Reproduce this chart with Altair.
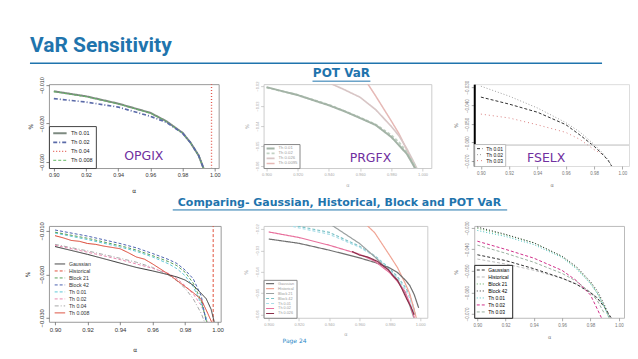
import altair as alt
import pandas as pd

BLUE = "#1f74ad"
PURPLE = "#7030a0"

# ---------------- OPGIX (POT VaR) ----------------
P1_ALPHA = [0.900, 0.920, 0.940, 0.960, 0.970, 0.980, 0.985, 0.990, 0.993, 0.995]
P1_TH001 = [-0.0116, -0.0129, -0.0148, -0.0172, -0.0194, -0.0224, -0.0250, -0.0283, -0.0316, -0.0345]
P1_TH002 = [-0.0135, -0.0144, -0.0157, -0.0181, -0.0197, -0.0225, -0.0250, -0.0283, -0.0316, -0.0345]
P1_TH0008 = [-0.0117, -0.0130, -0.0149, -0.0173, -0.0195, -0.0225, -0.0251, -0.0284, -0.0317, -0.0346]
P1_TH004_ALPHA = [0.998, 0.998]
P1_TH004 = [-0.0050, -0.0400]
P1_NAMES = ["Th 0.01", "Th 0.02", "Th 0.04", "Th 0.008"]

# ---------------- PRGFX (POT VaR) ----------------
P2_ALPHA = [0.900, 0.920, 0.940, 0.950, 0.960, 0.970, 0.980, 0.985, 0.990, 0.995, 0.998]
P2_TH001 = [-0.0205, -0.0245, -0.0296, -0.0326, -0.0360, -0.0395, -0.0455, -0.0497, -0.0540, -0.0608, -0.0680]
P2_TH002 = [-0.0207, -0.0244, -0.0293, -0.0325, -0.0357, -0.0392, -0.0445, -0.0482, -0.0530, -0.0595, -0.0660]
P2_TH0026 = [None, -0.0120, -0.0183, -0.0218, -0.0256, -0.0318, -0.0402, -0.0450, -0.0515, -0.0590, -0.0640]
P2_TH00095 = [None, None, None, None, -0.0130, -0.0250, -0.0375, -0.0440, -0.0520, -0.0610, -0.0670]
P2_NAMES = ["Th 0.01", "Th 0.02", "Th 0.026", "Th 0.0095"]

# ---------------- FSELX (POT VaR) ----------------
P3_ALPHA = [0.900, 0.920, 0.940, 0.960, 0.970, 0.980, 0.985, 0.990, 0.995]
P3_TH001 = [-0.0354, -0.0392, -0.0436, -0.0503, -0.0559, -0.0620, -0.0656, -0.0697, -0.0760]
P3_TH002 = [-0.0295, -0.0349, -0.0413, -0.0492, -0.0543, -0.0610, -0.0648, -0.0692, -0.0760]
P3_TH003 = [-0.0446, -0.0467, -0.0504, -0.0545, -0.0583, -0.0638, -0.0660, None, None]
P3_NAMES = ["Th 0.01", "Th 0.02", "Th 0.03"]

# ---------------- OPGIX (comparison) ----------------
P4_ALPHA = [0.900, 0.920, 0.940, 0.950, 0.960, 0.970, 0.975, 0.980, 0.985, 0.990, 0.993, 0.996, 0.998]
P4_GAUSS = [-0.0136, -0.0154, -0.0174, -0.0184, -0.0192, -0.0201, -0.0206, -0.0213, -0.0225, -0.0244, -0.0256, -0.0280, -0.0310]
P4_BLOCK21 = [-0.0103, -0.0117, -0.0134, -0.0144, -0.0157, -0.0171, -0.0180, -0.0195, -0.0220, -0.0262, -0.0305, -0.0350, None]
P4_BLOCK42 = [-0.0098, -0.0112, -0.0129, -0.0139, -0.0152, -0.0166, -0.0175, -0.0190, -0.0210, -0.0250, -0.0310, -0.0360, None]
P4_TH001 = [-0.0105, -0.0120, -0.0137, -0.0147, -0.0160, -0.0176, -0.0187, -0.0203, -0.0228, -0.0268, -0.0300, -0.0345, None]
P4_TH002 = [-0.0133, -0.0149, -0.0166, -0.0176, -0.0186, -0.0198, -0.0210, -0.0226, -0.0245, -0.0272, -0.0300, -0.0330, None]
P4_TH004 = [-0.0131, -0.0146, -0.0163, -0.0172, -0.0184, -0.0202, -0.0215, -0.0232, -0.0256, -0.0290, -0.0320, None, None]
P4_HIST_ALPHA = [0.9973, 0.9973]
P4_HIST = [-0.0050, -0.0400]
P4_TH0008_ALPHA = [0.900, 0.905, 0.910, 0.915, 0.920, 0.925, 0.930, 0.935, 0.940, 0.945, 0.950,
                   0.955, 0.960, 0.965, 0.970, 0.975, 0.980, 0.985, 0.990, 0.994, 0.997]
P4_TH0008 = [-0.0111, -0.0116, -0.0122, -0.0124, -0.0129, -0.0131, -0.0135, -0.0138, -0.0141, -0.0150, -0.0160,
             -0.0165, -0.0176, -0.0188, -0.0200, -0.0214, -0.0228, -0.0242, -0.0258, -0.0290, -0.0315]
P4_NAMES = ["Gaussian", "Historical", "Block 21", "Block 42", "Th 0.01", "Th 0.02", "Th 0.04", "Th 0.008"]

# ---------------- PRGFX (comparison) ----------------
P5_ALPHA = [0.900, 0.920, 0.940, 0.960, 0.970, 0.980, 0.985, 0.990, 0.993, 0.996, 0.999]
P5_GAUSS = [-0.0247, -0.0267, -0.0299, -0.0335, -0.0356, -0.0382, -0.0403, -0.0437, -0.0462, -0.0505, -0.0568]
P5_HIST = [None, None, None, -0.0150, -0.0218, -0.0325, -0.0380, -0.0452, -0.0500, -0.0575, -0.0660]
P5_BLOCK21 = [None, None, -0.0175, -0.0268, -0.0330, -0.0400, -0.0436, -0.0500, -0.0555, -0.0620, None]
P5_BLOCK42 = [-0.0150, -0.0188, -0.0216, -0.0281, -0.0325, -0.0385, -0.0423, -0.0470, -0.0505, -0.0575, -0.0660]
P5_TH001 = [-0.0160, -0.0195, -0.0225, -0.0285, -0.0328, -0.0390, -0.0430, -0.0480, -0.0520, -0.0590, None]
P5_TH002 = [-0.0214, -0.0240, -0.0276, -0.0318, -0.0350, -0.0405, -0.0445, -0.0492, -0.0545, -0.0610, -0.0680]
P5_TH0026_ALPHA = [0.955, 0.960, 0.965, 0.969, 0.972, 0.976, 0.979, 0.982, 0.985, 0.988, 0.991, 0.994, 0.996]
P5_TH0026 = [-0.0305, -0.0322, -0.0330, -0.0342, -0.0352, -0.0375, -0.0390, -0.0418, -0.0440, -0.0480, -0.0525, -0.0565, -0.0600]
P5_NAMES = ["Gaussian", "Historical", "Block 21", "Block 42", "Th 0.01", "Th 0.02", "Th 0.026"]

# ---------------- FSELX (comparison) ----------------
P6_ALPHA = [0.900, 0.920, 0.940, 0.960, 0.970, 0.980, 0.985, 0.990, 0.995]
P6_GAUSS = [-0.0425, -0.0452, -0.0490, -0.0534, -0.0562, -0.0602, -0.0628, -0.0670, -0.0722]
P6_HIST = [-0.0445, -0.0468, -0.0497, -0.0535, -0.0560, -0.0598, -0.0625, -0.0665, None]
P6_BLOCK21 = [-0.0302, -0.0333, -0.0369, -0.0434, -0.0485, -0.0556, -0.0605, -0.0668, -0.0750]
P6_BLOCK42 = [-0.0296, -0.0330, -0.0370, -0.0432, -0.0480, -0.0550, -0.0595, -0.0660, -0.0740]
P6_TH001 = [-0.0312, -0.0340, -0.0378, -0.0438, -0.0490, -0.0560, -0.0608, -0.0670, -0.0750]
P6_TH002 = [-0.0362, -0.0400, -0.0441, -0.0498, -0.0545, -0.0612, -0.0680, -0.0750, None]
P6_TH003 = [-0.0380, -0.0418, -0.0460, -0.0512, -0.0548, -0.0600, -0.0640, -0.0700, None]
P6_NAMES = ["Gaussian", "Historical", "Block 21", "Block 42", "Th 0.01", "Th 0.02", "Th 0.03"]

X_TICKS = [0.90, 0.92, 0.94, 0.96, 0.98, 1.00]


def frame(specs):
    rows = []
    for name, alphas, values in specs:
        for a, v in zip(alphas, values):
            if v is not None:
                rows.append({"alpha": a, "var": v, "series": name})
    return pd.DataFrame(rows)


def one_row():
    return pd.DataFrame({"k": [0]})


def panel(df, names, colors, dashes, widths, xdom, ydom, yvals, xfmt, yfmt, w, h, st,
          label=None, label_pos=None, extras=(), title=None):
    ax_common = dict(labelFont="Liberation Sans", labelFontSize=st["ls"], labelColor=st["lc"],
                     tickColor=st["tc"], tickSize=3, tickWidth=0.7, grid=False,
                     titleFont="DejaVu Sans", titleFontSize=st["ts"], titleFontWeight="normal",
                     titleColor=st["lc"], labelPadding=1.5)
    xaxis = alt.Axis(values=X_TICKS, format=xfmt, title="α", domain=False,
                     titlePadding=st["xtp"], labelFlush=False, **ax_common)
    ydomain_kw = dict(domain=st.get("ydomain", False))
    if st.get("ydomain", False):
        ydomain_kw.update(domainColor="#000000", domainWidth=2)
    yaxis = alt.Axis(values=yvals, format=yfmt, title="%", labelAngle=270, labelAlign="center",
                     labelBaseline="bottom", titlePadding=st["ytp"], **ydomain_kw, **ax_common)
    leg_kw = dict(orient="bottom-left", title=None, offset=st.get("loff", 0),
                  labelFont="Liberation Sans", labelFontSize=st["lfs"], labelColor=st["llc"],
                  symbolType="stroke", symbolSize=st["ssz"], symbolStrokeWidth=1,
                  padding=st["lpad"], rowPadding=0, clipHeight=st["clip"], labelOffset=3)
    if st.get("lborder"):
        leg_kw.update(strokeColor=st["lborder"], fillColor="white")
    lines = alt.Chart(df).mark_line(clip=True).encode(
        x=alt.X("alpha:Q", scale=alt.Scale(domain=xdom, nice=False, zero=False), axis=xaxis),
        y=alt.Y("var:Q", scale=alt.Scale(domain=ydom, nice=False, zero=False), axis=yaxis),
        color=alt.Color("series:N", scale=alt.Scale(domain=names, range=colors),
                        legend=alt.Legend(**leg_kw)),
        strokeDash=alt.StrokeDash("series:N", scale=alt.Scale(domain=names, range=dashes)),
        strokeWidth=alt.StrokeWidth("series:N", scale=alt.Scale(domain=names, range=widths),
                                    legend=None),
    )
    layers = [lines]
    if label:
        layers.append(alt.Chart(one_row()).mark_text(
            font="DejaVu Sans", fontSize=12.5, color=PURPLE, align="center", baseline="middle"
        ).encode(x=alt.value(label_pos[0]), y=alt.value(label_pos[1]), text=alt.value(label)))
    layers.extend(extras)
    props = dict(width=w, height=h, view=alt.ViewBackground(stroke=st["box"], strokeWidth=1))
    if title is not None:
        props["title"] = title
    return alt.layer(*layers).properties(**props)


SOLID = [1, 0]
DASH = [3, 2]
DOT = [1, 2]
DASHDOT = [4, 2, 1, 2]

top_style = dict(ls=5.5, lc="#333333", tc="#555555", ts=6, xtp=10, ytp=6, lfs=5.5, llc="#222222",
                 ssz=180, clip=8.5, lpad=3, lborder="#444444", box="#9a9a9a")
faint_style = dict(top_style, ls=4, lc="#aaaaaa", tc="#bbbbbb", ts=5, xtp=6, ytp=6, lfs=4.2,
                   llc="#999999", ssz=64, clip=4.8, lpad=2, lborder="#888888", box="#cccccc")
fsel_style = dict(top_style, ls=4.5, lc="#777777", tc="#888888", ts=5, xtp=8, ytp=6, lfs=5,
                  llc="#111111", ssz=30, clip=5.2, lpad=2, lborder="#bbbbbb", box="#dddddd",
                  ydomain=True)

# panel geometry (plot areas)
W1, W2, W3 = 170, 168, 155
W4, W5, W6 = 172, 164, 150
H_TOP, H_BOT = 84, 92
GAP = 43

# underline for slide title, subtitles, and decorations
title_rule = alt.Chart(one_row()).mark_rule(color=BLUE, strokeWidth=1.5).encode(
    x=alt.value(-19), x2=alt.value(554), y=alt.value(-21))
pot_rule = alt.Chart(one_row()).mark_rule(color=BLUE, strokeWidth=1).encode(
    x=alt.value(49), x2=alt.value(107), y=alt.value(-3))
fsel_rule = alt.Chart(one_row()).mark_rule(color="#bbbbbb", strokeWidth=1).encode(
    x=alt.value(0), x2=alt.value(W3), y=alt.value(61))
cmp_rule = alt.Chart(one_row()).mark_rule(color=BLUE, strokeWidth=1).encode(
    x=alt.value(-91), x2=alt.value(244), y=alt.value(-16))
page_text = alt.Chart(one_row()).mark_text(
    font="DejaVu Sans", fontSize=6, color="#2e8bc8", align="center", baseline="middle"
).encode(x=alt.value(31), y=alt.value(115), text=alt.value("Page 24"))

pot_title = alt.Title("POT VaR", font="DejaVu Sans", fontSize=12, fontWeight="bold",
                      color=BLUE, anchor="middle", frame="group", offset=1, dx=-6)
cmp_title = alt.Title("Comparing- Gaussian, Historical, Block and POT VaR",
                      font="DejaVu Sans", fontSize=11, fontWeight="bold",
                      color=BLUE, anchor="middle", frame="group", offset=1, dx=-6)

p1 = panel(
    frame([("Th 0.01", P1_ALPHA, P1_TH001), ("Th 0.008", P1_ALPHA, P1_TH0008),
           ("Th 0.02", P1_ALPHA, P1_TH002), ("Th 0.04", P1_TH004_ALPHA, P1_TH004)]),
    P1_NAMES, ["#7d8a80", "#5a6aa8", "#e2574c", "#62b862"], [SOLID, DASHDOT, DOT, DASH],
    [2, 1, 1, 1], [0.89695, 1.00244], [-0.03156, -0.00974], [-0.010, -0.020, -0.030],
    ".2f", ".3f", W1, H_TOP, top_style, "OPGIX", (95, 72), [title_rule])

p2 = panel(
    frame([("Th 0.0095", P2_ALPHA, P2_TH00095), ("Th 0.026", P2_ALPHA, P2_TH0026),
           ("Th 0.02", P2_ALPHA, P2_TH002), ("Th 0.01", P2_ALPHA, P2_TH001)]),
    P2_NAMES, ["#a3b3a6", "#c2d2c4", "#d8c6c6", "#e6b9b6"], [SOLID, DASH, SOLID, SOLID],
    [2, 1.5, 1.5, 1.5], [0.8981, 1.0056], [-0.061, -0.019], [-0.02, -0.03, -0.04, -0.05, -0.06],
    ".3f", ".2f", W2, H_TOP, faint_style, "PRGFX", (107, 74), [pot_rule], title=pot_title)

p3 = panel(
    frame([("Th 0.02", P3_ALPHA, P3_TH002), ("Th 0.03", P3_ALPHA, P3_TH003),
           ("Th 0.01", P3_ALPHA, P3_TH001)]),
    P3_NAMES, ["#333333", "#a0a0a0", "#d98080"], [DASH, DOT, [1, 3]],
    [1, 1, 1.2], [0.8953, 1.0047], [-0.0727, -0.0284], [-0.03, -0.04, -0.05, -0.06, -0.07],
    ".2f", ".3f", W3, H_TOP - 2, fsel_style, "FSELX", (72, 74), [fsel_rule])

p4_style = dict(top_style, ls=6, lfs=5.2, ssz=110, clip=6.2, lpad=0, loff=5, xtp=14, ytp=8,
                lborder=None, llc="#333333")
p4 = panel(
    frame([("Historical", P4_HIST_ALPHA, P4_HIST), ("Th 0.04", P4_ALPHA, P4_TH004),
           ("Th 0.02", P4_ALPHA, P4_TH002), ("Th 0.01", P4_ALPHA, P4_TH001),
           ("Block 21", P4_ALPHA, P4_BLOCK21), ("Block 42", P4_ALPHA, P4_BLOCK42),
           ("Th 0.008", P4_TH0008_ALPHA, P4_TH0008), ("Gaussian", P4_ALPHA, P4_GAUSS)]),
    P4_NAMES, ["#333333", "#e0503c", "#5aa05a", "#4a62b0", "#5ec8d8", "#e88ab0", "#a8a8a8", "#d9402e"],
    [SOLID, DASH, DASH, DASH, DASH, DASH, DASHDOT, SOLID],
    [1, 1, 1, 1, 1, 1, 1, 1.3], [0.89625, 1.0019], [-0.0309, -0.00886], [-0.010, -0.020, -0.030],
    ".2f", ".3f", W4, H_BOT + 4, p4_style)

p5 = panel(
    frame([("Block 42", P5_ALPHA, P5_BLOCK42), ("Th 0.01", P5_ALPHA, P5_TH001),
           ("Block 21", P5_ALPHA, P5_BLOCK21), ("Historical", P5_ALPHA, P5_HIST),
           ("Gaussian", P5_ALPHA, P5_GAUSS), ("Th 0.02", P5_ALPHA, P5_TH002),
           ("Th 0.026", P5_TH0026_ALPHA, P5_TH0026)]),
    P5_NAMES, ["#707070", "#f0a595", "#9aa0a0", "#7cc2c6", "#a9dde8", "#e8719d", "#8a2f4a"],
    [SOLID, SOLID, SOLID, DASH, DASH, SOLID, SOLID],
    [1.2, 1.2, 1.2, 1.2, 1.2, 1.5, 1.2], [0.89662, 1.0047], [-0.0614, -0.0186],
    [-0.02, -0.03, -0.04, -0.05, -0.06], ".3f", ".2f", W5, H_BOT,
    dict(faint_style, lfs=3.8, clip=4.4, ssz=64, lpad=1.5, xtp=5, ytp=7),
    extras=[cmp_rule, page_text], title=cmp_title)

p6 = panel(
    frame([("Historical", P6_ALPHA, P6_HIST), ("Th 0.03", P6_ALPHA, P6_TH003),
           ("Gaussian", P6_ALPHA, P6_GAUSS), ("Th 0.01", P6_ALPHA, P6_TH001),
           ("Block 21", P6_ALPHA, P6_BLOCK21), ("Block 42", P6_ALPHA, P6_BLOCK42),
           ("Th 0.02", P6_ALPHA, P6_TH002)]),
    P6_NAMES, ["#333333", "#bbbbbb", "#5aaa5a", "#333333", "#4ac0c0", "#d0308a", "#9ab0a0"],
    [DASH, DASH, DOT, DOT, DOT, DASH, DASH],
    [1, 1, 1.2, 1.2, 1.2, 1.3, 1], [0.8978, 1.0037], [-0.0718, -0.0291],
    [-0.03, -0.04, -0.05, -0.06, -0.07], ".2f", ".3f", W6, H_BOT,
    dict(fsel_style, ydomain=False, box="#bbbbbb", lfs=5, clip=6.3, ssz=64, lborder="#222222",
         llc="#000000", xtp=8, ytp=6))

RES = dict(x="independent", y="independent", color="independent",
           strokeDash="independent", strokeWidth="independent")

chart = alt.concat(
    p1, p2, p3, p4, p5, p6, columns=3, spacing={"row": 58, "column": GAP},
    bounds="flush", align="none",
    title=alt.Title("VaR Sensitivity", font="Roboto", fontSize=21, fontWeight="bold",
                    color=BLUE, anchor="start", offset=6, dx=6),
).resolve_scale(**RES).properties(
    padding={"left": 16, "top": 26, "right": 0, "bottom": 0}
)

chart.save("out.html", embed_options={"renderer": "svg", "actions": False})
